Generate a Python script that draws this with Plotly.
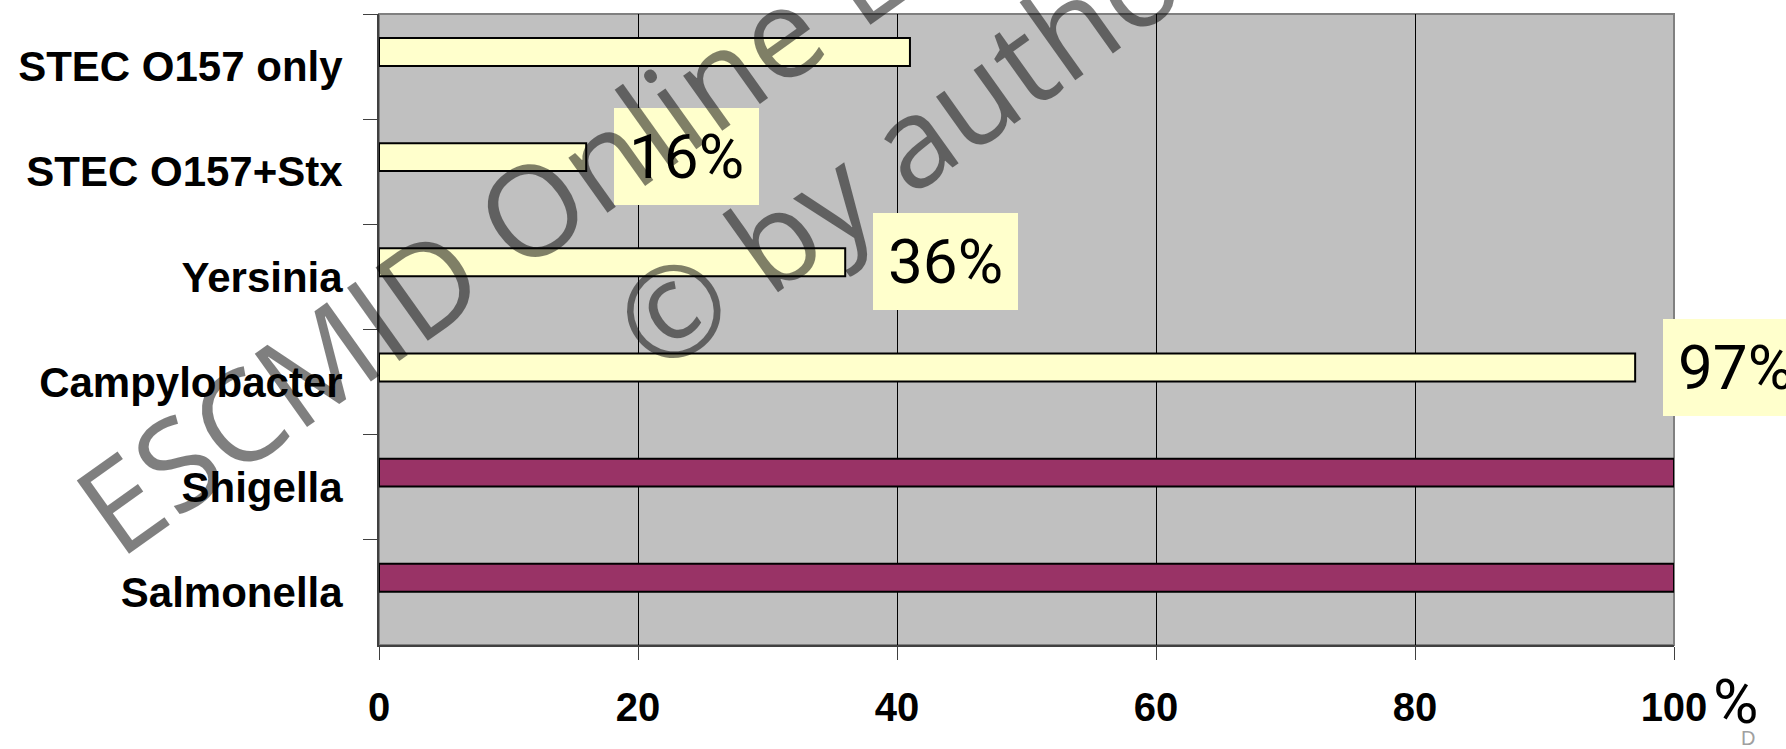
import plotly.graph_objects as go

# ---- data ----
categories = ["STEC O157 only", "STEC O157+Stx", "Yersinia", "Campylobacter", "Shigella", "Salmonella"]
yellow_values = [41, 16, 36, 97, None, None]
maroon_values = [None, None, None, None, 100, 100]
value_labels = ["", "16%", "36%", "97%", "", ""]
x_tick_values = [0, 20, 40, 60, 80, 100]
x_tick_labels = ["0", "20", "40", "60", "80", "100"]

BAR_W = 0.266
BAR_OFF = -0.272

fig = go.Figure()
fig.add_trace(go.Bar(
    y=categories, x=yellow_values, orientation="h",
    width=BAR_W, offset=BAR_OFF,
    marker=dict(color="#FFFFCC", line=dict(color="#000000", width=2)),
    name="Series 1", hoverinfo="x+y",
))
fig.add_trace(go.Bar(
    y=categories, x=maroon_values, orientation="h",
    width=BAR_W, offset=BAR_OFF,
    marker=dict(color="#993366", line=dict(color="#000000", width=2)),
    name="Series 2", hoverinfo="x+y",
))

label_font = dict(family="Roboto, Liberation Sans Narrow, sans-serif",
                  size=62, color="#000000", weight=400)
annotations = []
for cat, val, txt in zip(categories, yellow_values, value_labels):
    if txt and val is not None:
        annotations.append(dict(
            x=val, y=cat, xref="x", yref="y", text=txt, showarrow=False,
            xanchor="center", yanchor="middle", xshift=100, yshift=15,
            bgcolor="#FFFFCC", borderpad=10, borderwidth=0,
            width=125, height=77, font=label_font,
        ))

# "%" after the 100 tick label
annotations.append(dict(
    x=100, y=0, xref="x", yref="paper", text="%", showarrow=False,
    xanchor="left", yanchor="middle", xshift=37, yshift=-56, font=label_font,
))
# small footer remnant
annotations.append(dict(
    x=1.057, y=-0.147, xref="paper", yref="paper", text="D", showarrow=False,
    xanchor="center", yanchor="middle",
    font=dict(family="Liberation Sans, Arial, sans-serif", size=20, color="#A0A0A0"),
))
# watermark
annotations.append(dict(
    x=0.379, y=0.918, xref="paper", yref="paper",
    text="ESCMID Online Lecture Library<br>© by author", showarrow=False,
    xanchor="center", yanchor="middle", textangle=-35.5, align="center",
    font=dict(family="Open Sans, DejaVu Sans, sans-serif", size=126, color="rgba(0,0,0,0.5)"),
))

fig.update_layout(
    width=1786, height=749,
    margin=dict(l=379, r=112, t=14, b=104, autoexpand=False),
    paper_bgcolor="#FFFFFF", plot_bgcolor="#C0C0C0",
    showlegend=False, barmode="overlay",
    annotations=annotations,
    shapes=[dict(type="rect", xref="paper", yref="paper", x0=0, y0=0, x1=1, y1=1,
                 line=dict(color="#808080", width=2), layer="below")],
)
fig.update_xaxes(
    range=[0, 100], tickmode="array", tickvals=x_tick_values, ticktext=x_tick_labels,
    showgrid=True, gridcolor="#000000", gridwidth=1,
    showline=True, linecolor="#404040", linewidth=2,
    ticks="outside", ticklen=13, tickcolor="#404040", tickwidth=1,
    ticklabelstandoff=13, zeroline=False,
    tickfont=dict(family="Liberation Sans, Arial, sans-serif", size=40, color="#000000", weight="bold"),
)
fig.update_yaxes(
    type="category", categoryorder="array", categoryarray=categories,
    range=[5.5, -0.5], tickson="boundaries",
    showgrid=False, showline=True, linecolor="#404040", linewidth=2,
    ticks="outside", ticklen=14, tickcolor="#404040", tickwidth=1,
    ticklabelstandoff=26,
    tickfont=dict(family="Liberation Sans, Arial, sans-serif", size=42, color="#000000", weight="bold"),
)

fig.write_html("out.html")
